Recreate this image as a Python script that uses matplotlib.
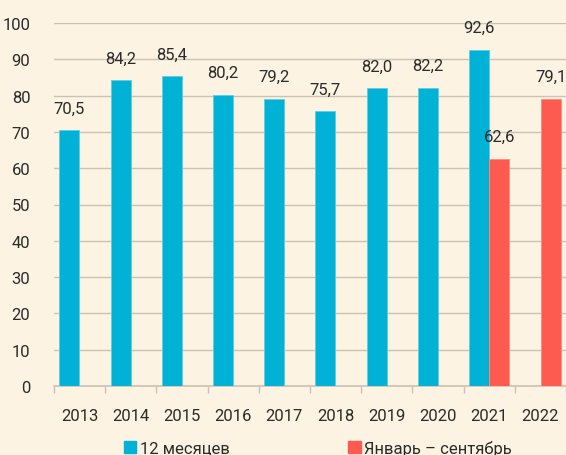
import matplotlib
matplotlib.use("Agg")
import matplotlib.pyplot as plt
from matplotlib.patches import Patch
import numpy as np

# datos
years = ["2013", "2014", "2015", "2016", "2017", "2018", "2019", "2020", "2021", "2022"]
full_year = [70.5, 84.2, 85.4, 80.2, 79.2, 75.7, 82.0, 82.2, 92.6, None]
jan_sep = [None, None, None, None, None, None, None, None, 62.6, 79.1]
legend_labels = ["12 месяцев", "Январь – сентябрь"]

BG = "#FDF3E3"
BLUE = "#00B2D6"
RED = "#FF5A50"
GRID = "#CBC2B4"
TXT = "#2B2B2B"

plt.rcParams["font.family"] = ["Roboto", "DejaVu Sans"]

fig = plt.figure(figsize=(5.66, 4.56), dpi=100, facecolor=BG)
ax = fig.add_axes([54 / 566, 1 - 387 / 456, 1 - 54 / 566, (387 - 24) / 456])
ax.set_facecolor(BG)

x = np.arange(len(years))
w = 0.39

def fmt(v):
    return f"{v:.1f}".replace(".", ",")

for i, v in enumerate(full_year):
    if v is None:
        continue
    ax.bar(x[i] - 0.2, v, w, color=BLUE, edgecolor="#5FCDE4", linewidth=0.6, zorder=3)
    ax.annotate(fmt(v), (x[i] - 0.2, v), xytext=(0, 10.5), textcoords="offset points",
                ha="center", va="bottom", fontsize=12, color=TXT, annotation_clip=False)

for i, v in enumerate(jan_sep):
    if v is None:
        continue
    ax.bar(x[i] + 0.2, v, w, color=RED, edgecolor="#FF8A80", linewidth=0.6, zorder=3)
    ax.annotate(fmt(v), (x[i] + 0.2, v), xytext=(0, 10.5), textcoords="offset points",
                ha="center", va="bottom", fontsize=12, color=TXT, annotation_clip=False)

ax.set_xlim(-0.5, len(years) - 0.5)
ax.set_ylim(0, 100)
ax.set_yticks(np.arange(0, 101, 10))
ax.yaxis.grid(True, color=GRID, linewidth=1.0, zorder=0)
ax.set_axisbelow(True)

ax.set_xticks(x)
ax.set_xticklabels(years)
ax.set_xticks(np.arange(-0.5, len(years), 1.0), minor=True)
ax.tick_params(axis="x", which="major", length=0, pad=16, labelsize=12, labelcolor=TXT)
ax.tick_params(axis="x", which="minor", length=5, width=1, color=GRID)
ax.tick_params(axis="y", length=0, pad=17, labelsize=12, labelcolor=TXT)

for s in ["top", "right", "left"]:
    ax.spines[s].set_visible(False)
ax.spines["bottom"].set_color(GRID)
ax.spines["bottom"].set_linewidth(1.2)

handles = [Patch(facecolor=BLUE, edgecolor=BLUE), Patch(facecolor=RED, edgecolor=RED)]
fig.legend(handles, legend_labels, loc="center", bbox_to_anchor=(0.5615, 1 - 449 / 456),
           ncol=2, frameon=False, fontsize=12, handlelength=0.75, handleheight=0.75,
           handletextpad=0.2, columnspacing=7.1, labelcolor=TXT)

fig.savefig("out.png", dpi=100, facecolor=BG)
